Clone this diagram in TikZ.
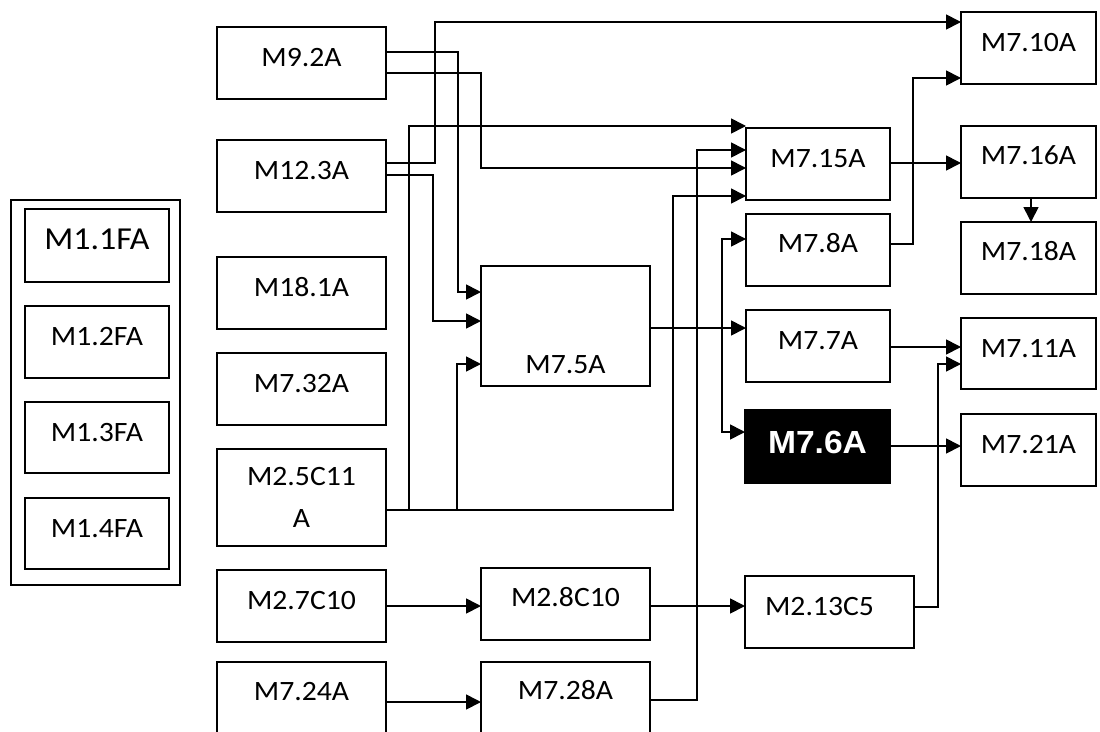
\documentclass[tikz,border=0pt]{standalone}
\usepackage{fontspec}
\setmainfont{Carlito}[FakeStretch=1.06]
\newfontfamily\blackfont{Liberation Sans}[FakeStretch=1.05]
\usetikzlibrary{arrows.meta}
\begin{document}
\begin{tikzpicture}[x=1pt,y=-1pt,
  box/.style={draw=black,line width=1.7pt,anchor=north west,inner sep=0pt,outer sep=0pt,
    font=\fontsize{28}{34}\selectfont},
  tb/.style={text height=39pt,text depth=#1},
  conn/.style={line width=1.7pt},
  arr/.style={conn,-{Triangle[length=15pt,width=15pt]}},
]
\useasboundingbox (0,0) rectangle (1100,731);
\clip (0,0) rectangle (1100,731);

% left panel
\node[box,minimum width=169pt,minimum height=385pt] (pnl) at (11,200) {};
\node[box,minimum width=144pt,text height=40pt,text depth=33pt,font=\fontsize{32}{38}\selectfont] (m11) at (25,209) {M1.1FA};
\node[box,minimum width=144pt,tb=33pt] (m12) at (25,306) {M1.2FA};
\node[box,minimum width=144pt,tb=32pt] (m13) at (25,402) {M1.3FA};
\node[box,minimum width=144pt,tb=32pt] (m14) at (25,498) {M1.4FA};

% left column
\node[box,minimum width=169pt,tb=33pt] (m92) at (217,27) {M9.2A};
\node[box,minimum width=169pt,tb=33pt] (m123) at (217,140) {M12.3A};
\node[box,minimum width=169pt,tb=33pt] (m181) at (217,257) {M18.1A};
\node[box,minimum width=169pt,tb=33pt] (m732) at (217,353) {M7.32A};
\node[box,minimum width=169pt,minimum height=97pt,align=center,font=\fontsize{28}{42}\selectfont] (m25) at (217,449) {M2.5C11\\A};
\node[box,minimum width=169pt,tb=33pt] (m27) at (217,570) {M2.7C10};
\node[box,minimum width=169pt,text height=38pt,text depth=62pt] (m724) at (217,662) {M7.24A};

% second column
\node[box,minimum width=169pt,text height=107pt,text depth=13pt] (m75) at (481,266) {M7.5A};
\node[box,minimum width=169pt,text height=38pt,text depth=34pt] (m28) at (481,568) {M2.8C10};
\node[box,minimum width=169pt,text height=37pt,text depth=63pt] (m728) at (481,662) {M7.28A};

% third column
\node[box,minimum width=144pt,tb=33pt] (m715) at (746,128) {M7.15A};
\node[box,minimum width=144pt,text height=38pt,text depth=34pt] (m78) at (746,214) {M7.8A};
\node[box,minimum width=144pt,tb=33pt] (m77) at (746,310) {M7.7A};
\node[box,minimum width=145pt,fill=black,text=white,text height=43pt,text depth=30pt,
  font=\blackfont\bfseries\fontsize{32}{36}\selectfont] (m76) at (745,410) {M7.6A};
\node[box,minimum width=169pt,tb=33pt] (m213) at (745,576) {M2.13C5\hspace*{20pt}};

% right column
\node[box,minimum width=135pt,tb=33pt] (m710) at (961,12) {M7.10A};
\node[box,minimum width=135pt,text height=38pt,text depth=34pt] (m716) at (961,126) {M7.16A};
\node[box,minimum width=135pt,text height=38pt,text depth=34pt] (m718) at (961,222) {M7.18A};
\node[box,minimum width=135pt,tb=32pt] (m711) at (961,318) {M7.11A};
\node[box,minimum width=135pt,tb=33pt] (m721) at (961,414) {M7.21A};

% junction points
\coordinate (j1) at (409,510);
\coordinate (j2) at (457,510);
\coordinate (hub) at (722,328);

% connectors
\draw[arr] (m92.east |- 0,52) -| (458,292) -- (m75.west |- 0,292);
\draw[arr] (m92.east |- 0,73) -| (481,168) -- (m715.west |- 0,168);
\draw[arr] (m123.east |- 0,163) -| (435,22) -- (m710.west |- 0,22);
\draw[arr] (m123.east |- 0,175) -| (433,321) -- (m75.west |- 0,321);
\draw[arr] (m25.east |- 0,510) -| (673,196) -- (m715.west |- 0,196);
\draw[arr] (j1) |- (m715.west |- 0,126);
\draw[arr] (j2) |- (m75.west |- 0,364);
\draw[arr] (m728.east |- 0,700) -| (697,150) -- (m715.west |- 0,150);
\draw[conn] (m75.east |- hub) -- (hub);
\draw[arr] (hub) -- (m77.west |- hub);
\draw[arr] (hub) |- (m78.west |- 0,239);
\draw[arr] (hub) |- (m76.west |- 0,432);
\draw[arr] (m715.east |- 0,163) -- (m716.west |- 0,163);
\draw[arr] (m78.east |- 0,244) -| (913,78) -- (m710.west |- 0,78);
\draw[arr] (m716.south -| 1031,0) -- (m718.north -| 1031,0);
\draw[arr] (m77.east |- 0,347) -- (m711.west |- 0,347);
\draw[arr] (m213.east |- 0,607) -| (938,364) -- (m711.west |- 0,364);
\draw[arr] (m76.east |- 0,446) -- (m721.west |- 0,446);
\draw[arr] (m27.east |- 0,606) -- (m28.west |- 0,606);
\draw[arr] (m28.east |- 0,606) -- (m213.west |- 0,606);
\draw[arr] (m724.east |- 0,702) -- (m728.west |- 0,702);
\end{tikzpicture}
\end{document}
